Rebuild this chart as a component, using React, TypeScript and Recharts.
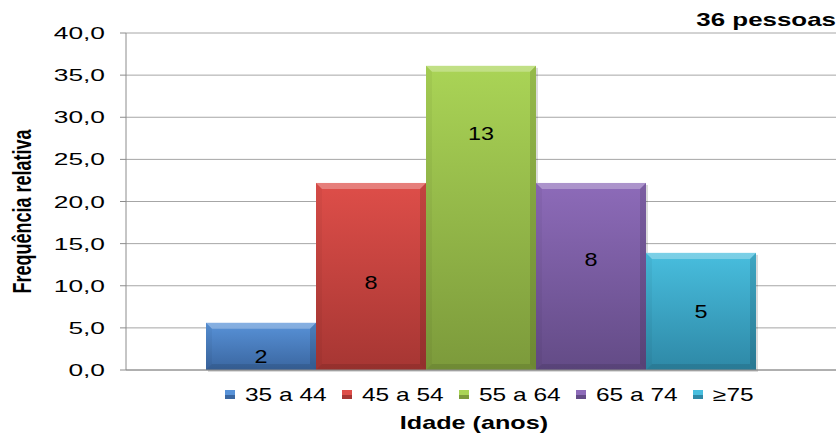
import React from "react";
import { BarChart, Bar, XAxis, YAxis, CartesianGrid, Legend } from "recharts";

// idade dos participantes, por faixa etária
const CATEGORIES = ["35 a 44", "45 a 54", "55 a 64", "65 a 74", "≥75"];
const COUNTS = [2, 8, 13, 8, 5];
const FREQ = [5.6, 22.2, 36.1, 22.2, 13.9];
const Y_TICKS = [0, 5, 10, 15, 20, 25, 30, 35, 40];
const TOTAL_LABEL = "36 pessoas";

// paleta office: cor base, topo claro, base escura
const COLORS = ["#4a7ebb", "#be4b48", "#98b954", "#7d60a0", "#46aac5"];
const TOPS = ["#5892d8", "#de4e49", "#aad456", "#8d6bb9", "#48bede"];
const BOTTOMS = ["#3a66a0", "#a63633", "#7c9a3b", "#634b86", "#2e88a6"];
// deslocamento vertical dos rótulos dentro das barras
const LABEL_DY = [10, 6, -84, -17, 0];

const W = 838;
const H = 437;
const FONT = "'Liberation Sans', Arial, sans-serif";

const rows = [
  CATEGORIES.reduce<Record<string, number | string>>(
    (acc, _, i) => ({ ...acc, [`s${i}`]: FREQ[i] }),
    { grupo: "Idade" }
  ),
];

const fmt = (v: number) => v.toFixed(1).replace(".", ",");

// texto alargado na horizontal
function Wide({ x, y, sx = 1.4, rotate = 0, children, ...rest }: any) {
  return (
    <g transform={`translate(${x},${y}) scale(${sx},1)${rotate ? ` rotate(${rotate})` : ""}`}>
      <text x={0} y={0} fontFamily={FONT} {...rest}>
        {children}
      </text>
    </g>
  );
}

function BevelBar(props: any) {
  const { x, y, width: w, height: h, idx } = props;
  if (!h || h <= 0) return null;
  const b = Math.min(6, h / 2);
  return (
    <g>
      <rect x={x + 2} y={y + 2} width={w} height={h} fill="rgba(0,0,0,0.14)" />
      <rect x={x} y={y} width={w} height={h} fill={`url(#grad${idx})`} />
      <polygon points={`${x},${y} ${x + w},${y} ${x + w - b},${y + b} ${x + b},${y + b}`} fill="rgba(255,255,255,0.28)" />
      <polygon points={`${x},${y} ${x + b},${y + b} ${x + b},${y + h - b} ${x},${y + h}`} fill="rgba(0,0,0,0.04)" />
      <polygon points={`${x + w},${y} ${x + w},${y + h} ${x + w - b},${y + h - b} ${x + w - b},${y + b}`} fill="rgba(0,0,0,0.12)" />
      <polygon points={`${x},${y + h} ${x + w},${y + h} ${x + w - b},${y + h - b} ${x + b},${y + h - b}`} fill="rgba(0,0,0,0.1)" />
      <Wide x={x + w / 2} y={y + h / 2 + LABEL_DY[idx]} sx={1.3} textAnchor="middle" dy="0.36em" fontSize={18} fill="#000">
        {COUNTS[idx]}
      </Wide>
    </g>
  );
}

function LegendRow({ payload }: any) {
  return (
    <svg width={W} height={28} style={{ display: "block" }}>
      {(payload || []).map((entry: any, i: number) => {
        const x0 = 225 + i * 117;
        return (
          <g key={entry.value}>
            <rect x={x0} y={10} width={10} height={9} fill={TOPS[i]} />
            <rect x={x0} y={15} width={10} height={4} fill={BOTTOMS[i]} />
            <Wide x={x0 + 20} y={21} sx={1.36} fontSize={18} fill="#000">
              {entry.value}
            </Wide>
          </g>
        );
      })}
    </svg>
  );
}

export default function App() {
  return (
    <div style={{ position: "absolute", left: 0, top: 0, width: W, height: H, background: "#fff" }}>
      <BarChart
        width={W}
        height={H}
        data={rows}
        margin={{ top: 33, right: 2, left: 0, bottom: 0 }}
        barCategoryGap={80}
        barGap={0}
      >
        <defs>
          {COLORS.map((_, i) => (
            <linearGradient key={i} id={`grad${i}`} x1="0" y1="0" x2="0" y2="1">
              <stop offset="0%" stopColor={TOPS[i]} />
              <stop offset="100%" stopColor={BOTTOMS[i]} />
            </linearGradient>
          ))}
        </defs>
        <CartesianGrid vertical={false} stroke="#a6a6a6" />
        <XAxis
          dataKey="grupo"
          tick={false}
          tickLine={false}
          axisLine={{ stroke: "#8c8c8c" }}
          height={67}
          label={{
            content: (p: any) => {
              const vb = p.viewBox || { x: 126, width: 710 };
              return (
                <Wide x={vb.x + vb.width / 2 - 7} y={429} sx={1.4} textAnchor="middle" fontSize={18} fontWeight="bold" fill="#000">
                  Idade (anos)
                </Wide>
              );
            },
          }}
        />
        <YAxis
          width={126}
          domain={[0, 40]}
          ticks={Y_TICKS}
          interval={0}
          tickSize={6}
          tickMargin={15}
          axisLine={{ stroke: "#8c8c8c" }}
          tickLine={{ stroke: "#8c8c8c" }}
          tick={(p: any) => (
            <Wide x={p.x} y={p.y} sx={1.55} textAnchor="end" dy="0.36em" fontSize={17} fill="#000">
              {fmt(p.payload.value)}
            </Wide>
          )}
          label={{
            content: (p: any) => {
              const vb = p.viewBox || { y: 33, height: 337 };
              return (
                <Wide x={22} y={vb.y + vb.height / 2 + 10} sx={1.4} rotate={-90} textAnchor="middle" dy="0.36em" fontSize={18} fontWeight="bold" fill="#000">
                  Frequência relativa
                </Wide>
              );
            },
          }}
        />
        <Legend
          layout="horizontal"
          verticalAlign="middle"
          align="center"
          content={<LegendRow />}
          wrapperStyle={{ top: 380, left: 0, width: W }}
        />
        {CATEGORIES.map((name, i) => (
          <Bar
            key={name}
            dataKey={`s${i}`}
            name={name}
            fill={COLORS[i]}
            isAnimationActive={false}
            shape={(p: any) => <BevelBar {...p} idx={i} />}
          />
        ))}
      </BarChart>
      <svg width={W} height={40} style={{ position: "absolute", left: 0, top: 0, pointerEvents: "none" }}>
        <Wide x={836} y={26} sx={1.4} textAnchor="end" fontSize={18.5} fontWeight="bold" fill="#000">
          {TOTAL_LABEL}
        </Wide>
      </svg>
    </div>
  );
}
